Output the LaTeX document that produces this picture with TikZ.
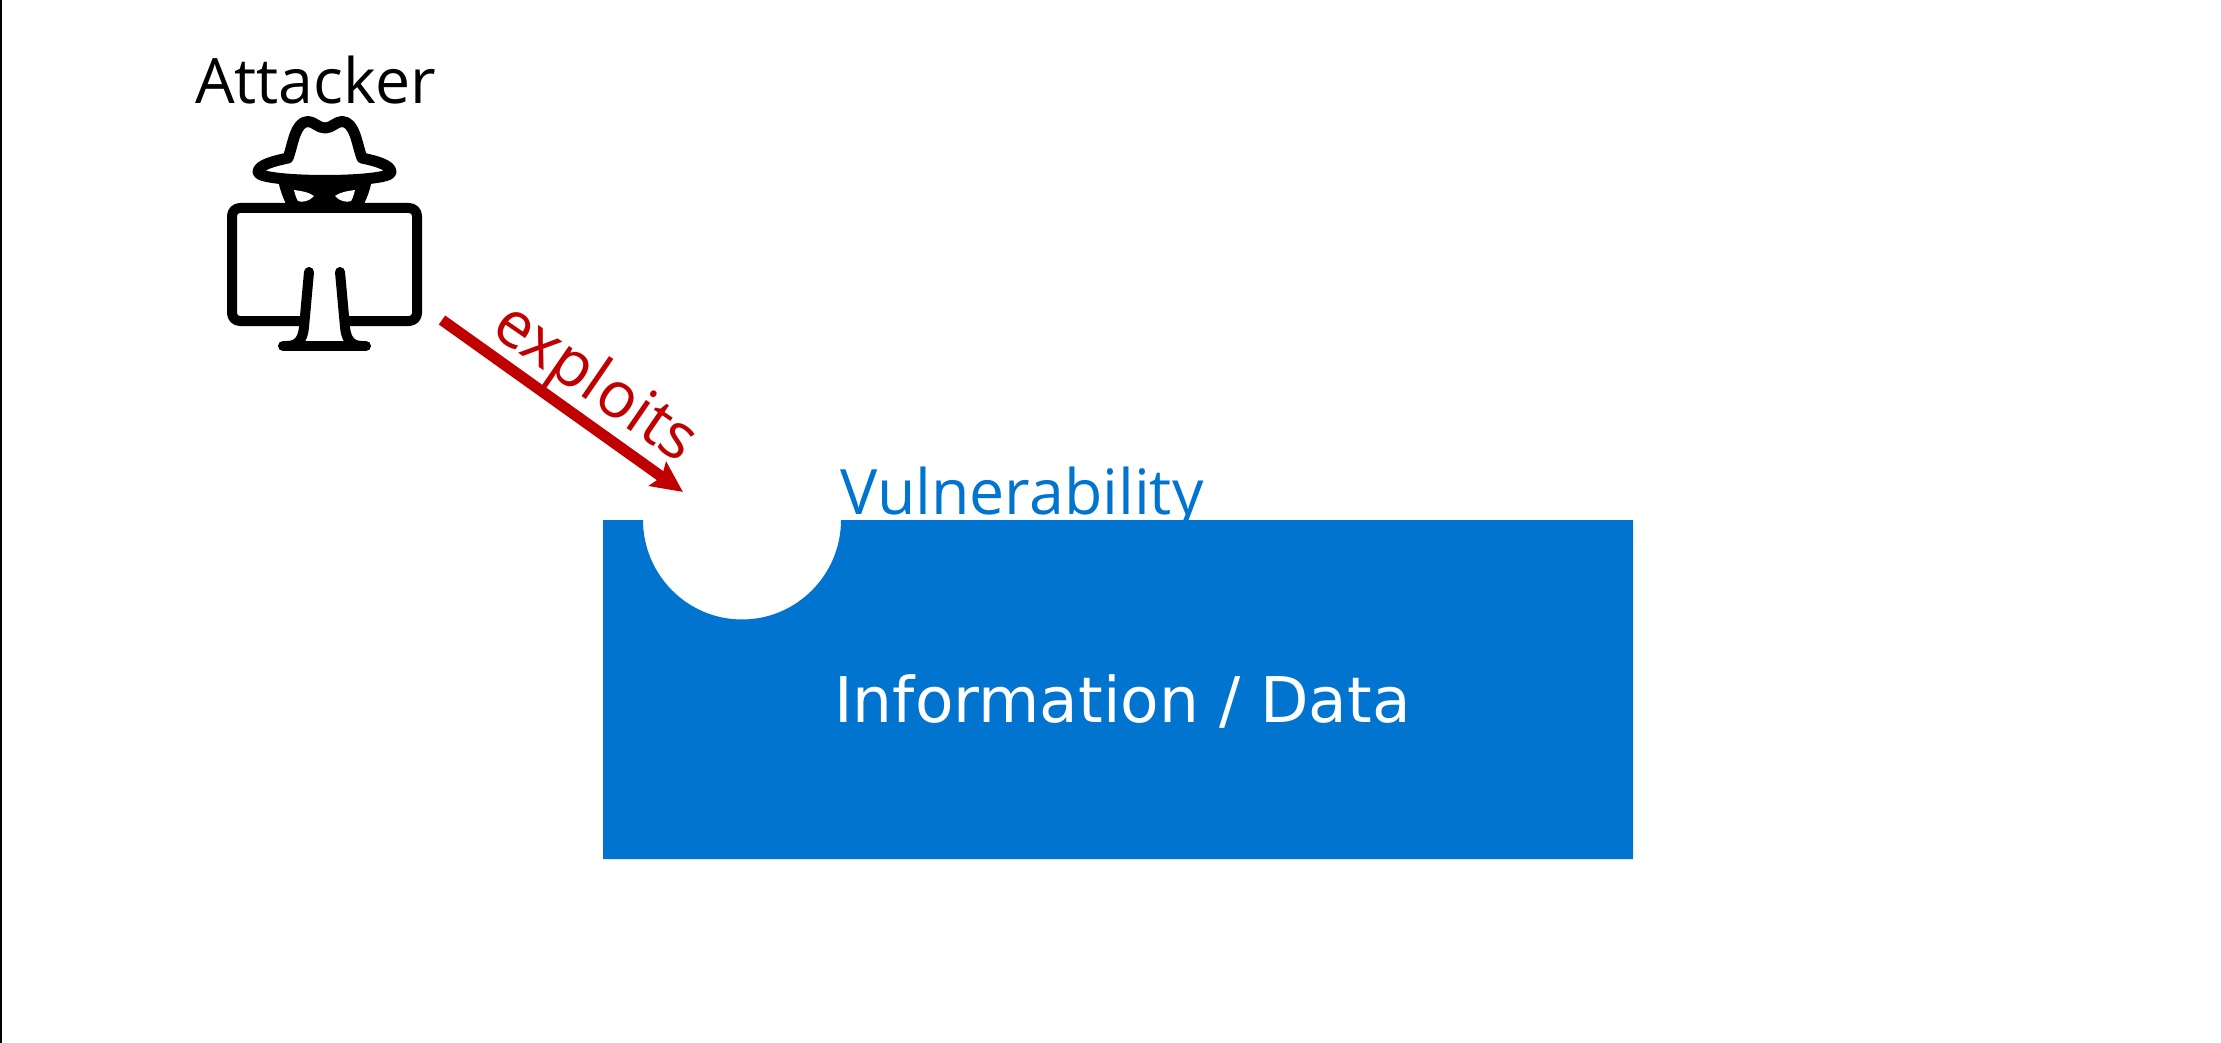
\documentclass[tikz,border=0pt]{standalone}
\usepackage{fontspec}
\setmainfont{Open Sans}
\newfontfamily\dejavu{DejaVu Sans}
\usetikzlibrary{arrows.meta}
\definecolor{azureblue}{RGB}{0,116,206}
\definecolor{exploitred}{RGB}{192,0,0}
\tikzset{
  lbl/.style={inner sep=0pt,outer sep=0pt,font=\fontsize{62.6}{63}\selectfont},
  iconline/.style={draw=black,line width=10pt,line cap=round,line join=round},
}
\begin{document}
\begin{tikzpicture}[x=1pt,y=-1pt]
\useasboundingbox (0,0) rectangle (2221,1043);
\fill[white] (0,0) rectangle (2221,1043);
\fill[black] (0,0) rectangle (2,1043);
% data block with the notch
\fill[azureblue] (603,520) -- (643,520)
  .. controls (643,574.7) and (687.3,619.5) .. (742,619.5)
  .. controls (796.7,619.5) and (841,574.7) .. (841,520)
  -- (1633,520) -- (1633,859) -- (603,859) -- cycle;
\node[lbl,anchor=base,text=white,font=\fontsize{63}{63}\selectfont\dejavu] (info) at (1122.5,722) {Information / Data};
\node[lbl,anchor=base,text=azureblue] (vuln) at (1022,514) {Vulnerability};
\node[lbl,anchor=base,text=black] (attacker) at (315.5,104) {Attacker};
% hat
\fill[black] (278,180) .. controls (280,190) and (283,198) .. (287,206) -- (363,206) .. controls (367,198) and (370,190) .. (372,180) -- cycle;
\fill[white] (294,190) .. controls (301,191) and (309,192) .. (314,196)
  .. controls (310,201) and (302,203) .. (298,201) .. controls (296,198) and (295,194) .. (294,190) -- cycle;
\fill[white] (355,190) .. controls (348,191) and (340,192) .. (335,196)
  .. controls (339,201) and (347,203) .. (351,201) .. controls (353,198) and (354,194) .. (355,190) -- cycle;
\draw[iconline,line width=11pt,fill=white] (325,180.5)
  .. controls (295,180.5) and (258,178) .. (258,172)
  .. controls (258,165) and (274,161) .. (288,158)
  .. controls (293,145) and (295,121.5) .. (308,121.5)
  .. controls (314,121.5) and (318,128) .. (325,128)
  .. controls (332,128) and (336,121.5) .. (342,121.5)
  .. controls (355,121.5) and (357,145) .. (362,158)
  .. controls (376,161) and (391,165) .. (391,172)
  .. controls (391,178) and (355,180.5) .. (325,180.5) -- cycle;
% monitor
\draw[iconline,fill=white,rounded corners=8pt] (232,208) rectangle (417,321);
\fill[white] (309,272) -- (340,272) -- (345,327) -- (352,346) -- (297,346) -- (304,327) -- cycle;
\draw[iconline] (309,272) -- (304,327) .. controls (303,338) and (299,346) .. (287,346);
\draw[iconline] (340,272) -- (345,327) .. controls (346,338) and (350,346) .. (362,346);
\draw[iconline] (283,346) -- (366,346);
% connector
\coordinate (from) at (442,320);
\coordinate (to) at (683,492);
\draw[exploitred,line width=11pt,-{Stealth[length=31pt,width=29pt,inset=5pt]}] (from) -- (to);
\node[lbl,text=exploitred,rotate=-34.5,font=\fontsize{64}{64}\selectfont] (exploits) at (594,385) {exploits};
\end{tikzpicture}
\end{document}
